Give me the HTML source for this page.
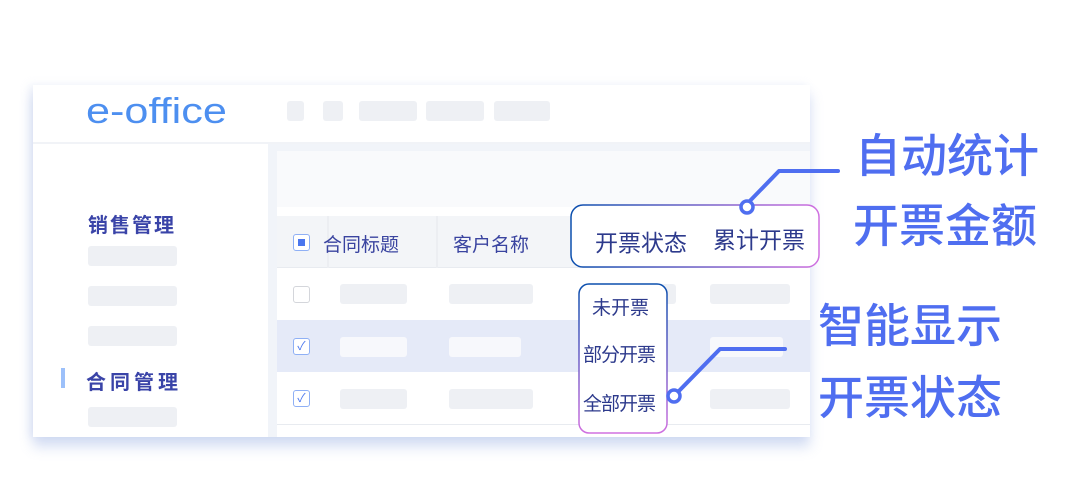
<!DOCTYPE html>
<html><head><meta charset="utf-8"><style>
*{margin:0;padding:0;box-sizing:border-box}
body{width:1080px;height:485px;background:#fff;position:relative;overflow:hidden;font-family:"Liberation Sans","Noto Sans CJK SC",sans-serif}
.a{position:absolute}
.ph{position:absolute;background:#eef0f4;border-radius:3px}
.t{position:absolute;white-space:nowrap}
.big{position:absolute;white-space:nowrap;font-size:46px;color:#4f6ef0;font-weight:500}
</style></head><body>
<div class="a" style="left:33px;top:85px;width:777px;height:352px;background:#fff;box-shadow:0 10px 12px rgba(120,150,220,0.3),-4px 0 8px rgba(200,210,235,0.3)"></div>
<div class="a" style="left:33px;top:142px;width:777px;height:2px;background:#f1f3f7"></div>
<div class="t" style="left:86px;top:90px;font-size:36px;color:#4d8ff0;transform:scaleX(1.2);transform-origin:left top">e-office</div>
<div class="ph" style="left:287px;top:101px;width:17px;height:20px"></div>
<div class="ph" style="left:323px;top:101px;width:20px;height:20px"></div>
<div class="ph" style="left:359px;top:101px;width:58px;height:20px"></div>
<div class="ph" style="left:426px;top:101px;width:58px;height:20px"></div>
<div class="ph" style="left:494px;top:101px;width:56px;height:20px"></div>
<!-- main -->
<div class="a" style="left:268px;top:144px;width:542px;height:293px;background:#f1f4f9"></div>
<div class="a" style="left:277px;top:151px;width:533px;height:56px;background:#f9fafc"></div>
<div class="a" style="left:277px;top:207px;width:533px;height:230px;background:#fff"></div>
<div class="a" style="left:277px;top:216px;width:533px;height:52px;background:#f3f5f8;border-bottom:1px solid #e8ebf0"></div>
<div class="a" style="left:327px;top:216px;width:2px;height:52px;background:#eceef2"></div>
<div class="a" style="left:436px;top:216px;width:2px;height:52px;background:#eceef2"></div>
<div class="a" style="left:277px;top:320px;width:533px;height:52px;background:#e5eaf8"></div>
<div class="a" style="left:277px;top:424px;width:533px;height:1px;background:#e8ebf0"></div>
<div class="a" style="left:293px;top:234px;width:17px;height:17px;border:1.5px solid #8fb0f5;border-radius:3px;background:#fff"><div class="a" style="left:3.5px;top:3.5px;width:7px;height:7px;background:#4a76ee"></div></div>
<div class="t" style="left:323px;top:230px;font-size:19px;color:#3a44a0">合同标题</div>
<div class="t" style="left:453px;top:230px;font-size:19px;color:#3a44a0">客户名称</div>
<div class="a" style="left:293px;top:286px;width:17px;height:17px;border:1.5px solid #d4d6db;border-radius:3px;background:#fff"></div>
<div class="a" style="left:293px;top:338px;width:17px;height:17px;border:1.5px solid #8fb0f5;border-radius:3px;background:#fff;color:#4a76ee;font-size:12px;line-height:14px;text-align:center">✓</div>
<div class="a" style="left:293px;top:390px;width:17px;height:17px;border:1.5px solid #8fb0f5;border-radius:3px;background:#fff;color:#4a76ee;font-size:12px;line-height:14px;text-align:center">✓</div>
<div class="ph" style="left:340px;top:284px;width:67px;height:20px"></div>
<div class="ph" style="left:449px;top:284px;width:84px;height:20px"></div>
<div class="ph" style="left:640px;top:284px;width:36px;height:20px"></div>
<div class="ph" style="left:710px;top:284px;width:80px;height:20px"></div>
<div class="ph" style="left:340px;top:337px;width:67px;height:20px;background:#f7f8fc"></div>
<div class="ph" style="left:449px;top:337px;width:72px;height:20px;background:#f7f8fc"></div>
<div class="ph" style="left:710px;top:337px;width:73px;height:20px;background:#f7f8fc"></div>
<div class="ph" style="left:340px;top:389px;width:67px;height:20px"></div>
<div class="ph" style="left:449px;top:389px;width:84px;height:20px"></div>
<div class="ph" style="left:710px;top:389px;width:80px;height:20px"></div>
<!-- sidebar -->
<div class="t" style="left:88px;top:209px;font-size:20px;font-weight:bold;color:#3a44a8;letter-spacing:2px">销售管理</div>
<div class="ph" style="left:88px;top:246px;width:89px;height:20px"></div>
<div class="ph" style="left:88px;top:286px;width:89px;height:20px"></div>
<div class="ph" style="left:88px;top:326px;width:89px;height:20px"></div>
<div class="ph" style="left:88px;top:407px;width:89px;height:20px"></div>
<div class="a" style="left:61px;top:368px;width:4px;height:20px;background:#9cc0fa"></div>
<div class="t" style="left:86px;top:366px;font-size:20px;font-weight:bold;color:#3a44a8;letter-spacing:4px">合同管理</div>
<!-- highlighted boxes -->
<svg class="a" style="left:0;top:0" width="1080" height="485">
<defs><linearGradient id="g" x1="0" y1="0" x2="1" y2="0"><stop offset="0" stop-color="#0b4fae"/><stop offset="1" stop-color="#d070e0"/></linearGradient>
<linearGradient id="g2" x1="0" y1="0" x2="0" y2="1"><stop offset="0" stop-color="#0b4fae"/><stop offset="1" stop-color="#d070e0"/></linearGradient></defs>
<rect x="571" y="205" width="248" height="62" rx="12" fill="#fff" stroke="url(#g)" stroke-width="1.5"/>
<rect x="579" y="284" width="88" height="149" rx="10" fill="#fff" stroke="url(#g2)" stroke-width="1.5"/>
<polyline points="743,208 779,171 838,171" fill="none" stroke="#4f6ef0" stroke-width="4" stroke-linecap="round" stroke-linejoin="round"/>
<circle cx="747" cy="207" r="6" fill="#fff" stroke="#4f6ef0" stroke-width="3.5"/>
<polyline points="675,395 720,349 785,349" fill="none" stroke="#4f6ef0" stroke-width="4" stroke-linecap="round" stroke-linejoin="round"/>
<circle cx="674" cy="396" r="6" fill="#fff" stroke="#4f6ef0" stroke-width="3.5"/>
</svg>
<div class="t" style="left:595px;top:224px;font-size:23px;color:#2d3a8c">开票状态</div>
<div class="t" style="left:713px;top:221px;font-size:23px;color:#2d3a8c">累计开票</div>
<div class="t" style="left:592px;top:293px;font-size:19px;color:#2d3a8c">未开票</div>
<div class="t" style="left:583px;top:340px;font-size:19px;color:#2d3a8c;letter-spacing:-1px">部分开票</div>
<div class="t" style="left:583px;top:389px;font-size:19px;color:#2d3a8c;letter-spacing:-1px">全部开票</div>
<div class="big" style="left:855px;top:120px">自动统计</div>
<div class="big" style="left:853px;top:190px">开票金额</div>
<div class="big" style="left:818px;top:290px">智能显示</div>
<div class="big" style="left:818px;top:362px">开票状态</div>
</body></html>
